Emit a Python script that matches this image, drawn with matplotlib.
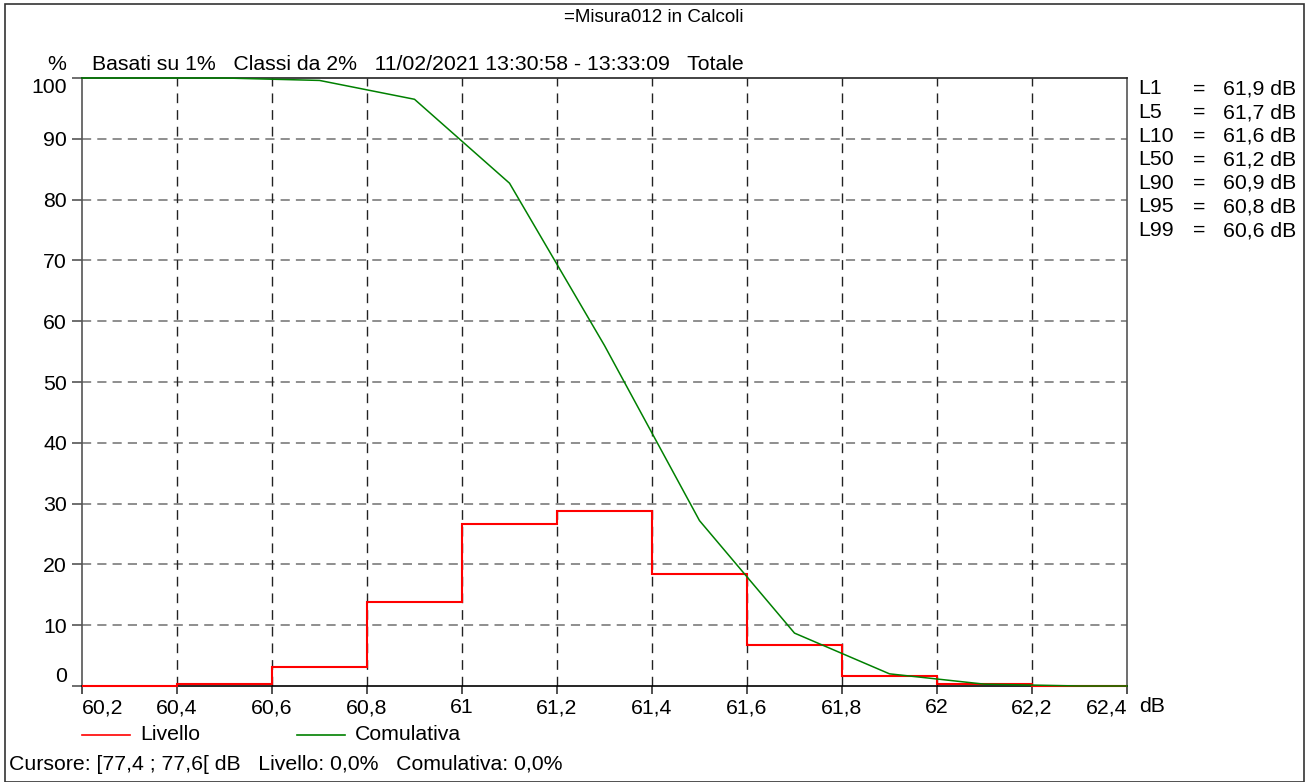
import numpy as np
import matplotlib
matplotlib.use("Agg")
import matplotlib.pyplot as plt
from matplotlib.patches import Rectangle
from matplotlib.lines import Line2D

plt.rcParams['font.family'] = ['Liberation Sans', 'DejaVu Sans']

# Class edges (dB) and percentage of time in each 0.2 dB class
class_edges = [60.2, 60.4, 60.6, 60.8, 61.0, 61.2, 61.4, 61.6, 61.8, 62.0, 62.2, 62.4]
livello = [0.0, 0.4, 3.1, 13.8, 26.7, 28.8, 18.5, 6.7, 1.7, 0.3, 0.0]

# Cumulative exceedance curve (%)
cum_levels = [60.2, 60.3, 60.5, 60.7, 60.9, 61.1, 61.3, 61.5, 61.7, 61.9, 62.1, 62.3, 62.4]
comulativa = [100.0, 100.0, 100.0, 99.6, 96.5, 82.7, 56.0, 27.2, 8.7, 2.0, 0.3, 0.0, 0.0]

x_ticks = [60.2, 60.4, 60.6, 60.8, 61.0, 61.2, 61.4, 61.6, 61.8, 62.0, 62.2, 62.4]
y_ticks = [0, 10, 20, 30, 40, 50, 60, 70, 80, 90, 100]

stat_names = ["L1", "L5", "L10", "L50", "L90", "L95", "L99"]
stat_values = ["61,9 dB", "61,7 dB", "61,6 dB", "61,2 dB", "60,9 dB", "60,8 dB", "60,6 dB"]

title = "=Misura012 in Calcoli"
subtitle = "Basati su 1%   Classi da 2%   11/02/2021 13:30:58 - 13:33:09   Totale"
cursor_text = "Cursore: [77,4 ; 77,6[ dB   Livello: 0,0%   Comulativa: 0,0%"

W, H = 1309, 782
FS = 15.3

fig = plt.figure(figsize=(W / 100, H / 100), dpi=100)

def fx(px):
    return px / W

def fy(py):
    return 1 - py / H

# outer frame
fig.patches.append(Rectangle((fx(5), fy(782)), fx(1304) - fx(5), fy(4) - fy(782),
                             transform=fig.transFigure, fill=False,
                             edgecolor='#333333', linewidth=1.2))

left, right, top, bottom = 82, 1127, 78, 686
ax = fig.add_axes([fx(left), fy(bottom), fx(right) - fx(left), fy(top) - fy(bottom)])
ax.set_xlim(60.2, 62.4)
ax.set_ylim(0, 100)

# grid
for yv in y_ticks[1:-1]:
    ax.axhline(yv, color='#707070', linewidth=1.1, linestyle=(0, (6, 4)), zorder=1)
for xv in x_ticks[1:-1]:
    ax.axvline(xv, color='#222222', linewidth=1.0, linestyle=(0, (7, 5)), zorder=1)

# level distribution and cumulative curve
ax.stairs(livello, class_edges, color='#ff0000', linewidth=1.5, zorder=3, clip_on=False)
ax.plot(cum_levels, comulativa, color='#008000', linewidth=1.1, zorder=4, clip_on=False)

for side, col in [('left', '#555555'), ('right', '#555555'), ('top', '#222222'), ('bottom', '#000000')]:
    ax.spines[side].set_color(col)
    ax.spines[side].set_linewidth(1.2)

ax.set_xticks(x_ticks)
ax.set_xticklabels([("%g" % v).replace('.', ',') for v in x_ticks], fontsize=FS)
ax.set_yticks(y_ticks)
ax.set_yticklabels([str(v) for v in y_ticks], fontsize=FS)
ax.tick_params(axis='x', length=5.8, width=1.2, color='#333333', pad=3)
ax.tick_params(axis='y', length=7.2, width=1.2, color='#555555', pad=3.6)
ylabels = ax.get_yticklabels()
ylabels[0].set_va('bottom')
ylabels[-1].set_va('top')
xlabels = ax.get_xticklabels()
xlabels[0].set_ha('left')
xlabels[-1].set_ha('right')

# texts
fig.text(fx(654), fy(18), title, ha='center', va='center', fontsize=13.5)
fig.text(fx(66), fy(64), "%", ha='right', va='center', fontsize=FS)
fig.text(fx(92), fy(64), subtitle, ha='left', va='center', fontsize=FS)
fig.text(fx(1139), fy(706), "dB", ha='left', va='center', fontsize=FS)

for i, (n, v) in enumerate(zip(stat_names, stat_values)):
    yy = 89 + i * 23.6
    fig.text(fx(1138), fy(yy), n, ha='left', va='center', fontsize=FS)
    fig.text(fx(1193), fy(yy), "=", ha='left', va='center', fontsize=FS)
    fig.text(fx(1296), fy(yy), v, ha='right', va='center', fontsize=FS)

# legend
fig.add_artist(Line2D([fx(82), fx(130)], [fy(735), fy(735)], color='#ff0000', linewidth=1.2,
                      transform=fig.transFigure))
fig.text(fx(140), fy(735), "Livello", ha='left', va='center', fontsize=FS)
fig.add_artist(Line2D([fx(297), fx(345)], [fy(735), fy(735)], color='#008000', linewidth=1.2,
                      transform=fig.transFigure))
fig.text(fx(355), fy(735), "Comulativa", ha='left', va='center', fontsize=FS)

fig.text(fx(9), fy(764), cursor_text, ha='left', va='center', fontsize=FS)

fig.savefig("out.png", dpi=100)
